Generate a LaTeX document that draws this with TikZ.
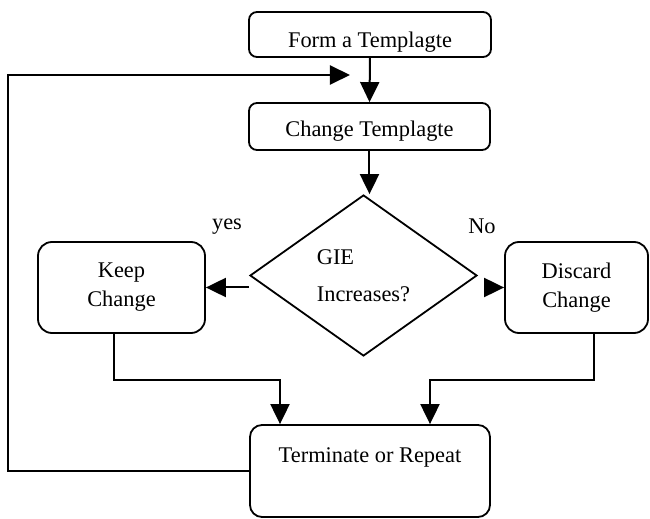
\documentclass[tikz,border=0pt]{standalone}
\usepackage{fontspec}
\setmainfont{Liberation Serif}
\usetikzlibrary{arrows.meta,shapes.geometric}

\begin{document}
\begin{tikzpicture}[x=0.5pt,y=-0.5pt,
        every node/.style={font=\fontsize{11.2}{14.5}\selectfont},
        stepbox/.style={draw, line width=0.9pt, rounded corners=4pt, inner sep=0pt, align=center},
        decision/.style={draw, diamond, line width=0.9pt, minimum width=113.5pt, minimum height=80.5pt,
            inner sep=0pt, align=left, font=\fontsize{11.2}{18.5}\selectfont},
        flow/.style={line width=1pt, -{Triangle[length=10pt,width=9.5pt]}}]
        \useasboundingbox (0,0) rectangle (650,519);

        \node[stepbox, minimum width=121pt, minimum height=22.5pt, text height=13pt, text depth=0pt] (form) at (370,34.5) {Form a Templagte};
        \node[stepbox, minimum width=120.5pt, minimum height=23.5pt, text height=10.5pt, text depth=0pt] (change) at (369.5,126.5) {Change Templagte};
        \node[decision] (gie) at (363.5,275.5) {GIE\\Increases?};
        \node[stepbox, rounded corners=7pt, minimum width=83.5pt, minimum height=45.5pt] (keep) at (121.5,287.5) {Keep\\Change};
        \node[stepbox, rounded corners=7pt, minimum width=71.5pt, minimum height=45.5pt] (discard) at (576.5,287.5) {Discard\\Change};
        \node[stepbox, rounded corners=6pt, minimum width=120pt, minimum height=46pt, text height=7pt, text depth=15pt] (term) at (370,471) {Terminate or Repeat};

        \node (yes) at (227,227) {yes};
        \node (no) at (482,226) {No};

        \coordinate (corner) at (8,75);
        \coordinate (loopend) at (350,75);

        \draw[flow] (form.south) -- (change.north);
        \draw[flow] (change.south) -- (change.south |- gie.north);
        \draw[flow] (gie.west |- keep.east) -- (keep.east);
        \draw[flow, shorten <=4pt] (gie.east |- discard.west) -- (discard.west);
        \draw[flow] ([xshift=-3.75pt]keep.south) -- ++(0,46) -| ([xshift=-45pt]term.north);
        \draw[flow] ([xshift=9pt]discard.south) -- ++(0,46) -| ([xshift=30pt]term.north);
        \draw[flow] (term.west) -| (corner) -- (loopend);
    \end{tikzpicture}
\end{document}
